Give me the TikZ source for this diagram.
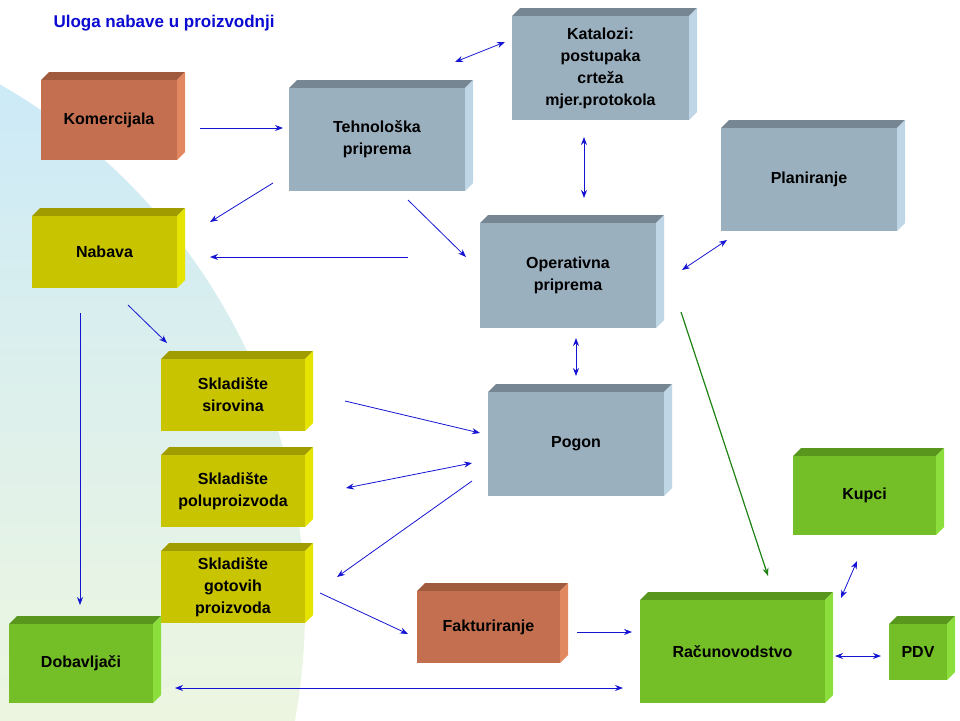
\documentclass[tikz,border=0pt]{standalone}
\usepackage{fontspec}
\setmainfont{Liberation Sans}
\usetikzlibrary{arrows.meta}
\definecolor{ofront}{RGB}{196,112,80}\definecolor{otop}{RGB}{160,90,62}\definecolor{oside}{RGB}{226,136,96}
\definecolor{gfront}{RGB}{155,176,191}\definecolor{gtop}{RGB}{118,134,146}\definecolor{gside}{RGB}{190,214,230}
\definecolor{yfront}{RGB}{201,196,0}\definecolor{ytop}{RGB}{160,156,0}\definecolor{yside}{RGB}{228,228,0}
\definecolor{lfront}{RGB}{116,190,40}\definecolor{ltop}{RGB}{88,150,30}\definecolor{lside}{RGB}{140,222,60}
\definecolor{arr}{RGB}{20,20,210}\definecolor{garr}{RGB}{30,130,20}
\definecolor{ttl}{RGB}{10,10,210}
\newcommand{\threedbox}[7]{%
  \fill[#6top] (#2,#3+8) -- (#2+8,#3) -- (#4,#3) -- (#4-8,#3+8) -- cycle;
  \fill[#6side] (#4-8,#3+8) -- (#4,#3) -- (#4,#5-8) -- (#4-8,#5) -- cycle;
  \node[boxtxt, fill=#6front, minimum width={#4-#2-8}, minimum height={#5-#3-8}, text width={#4-#2-14}] (#1) at ({(#2+#4-8)/2},{(#3+8+#5)/2}) {#7};
}
\tikzset{boxtxt/.style={inner sep=0pt, align=center, font=\bfseries\fontsize{16}{22}\selectfont},
  con/.style={draw=arr, line width=0.8pt, -{Stealth[length=8pt,width=6pt]}},
  bicon/.style={draw=arr, line width=0.8pt, {Stealth[length=8pt,width=6pt]}-{Stealth[length=8pt,width=6pt]}}}
\begin{document}
\begin{tikzpicture}[x=1pt,y=-1pt]
\useasboundingbox (0,0) rectangle (960,720);
\begin{scope}
\clip (0,0) rectangle (960,720);
\shade[top color={rgb,255:red,200;green,232;blue,250}, bottom color={rgb,255:red,252;green,252;blue,205}, middle color={rgb,255:red,232;green,244;blue,228}] (-300,610) circle (605);
\end{scope}
\node[anchor=west, text=ttl, font=\bfseries\fontsize{17}{20}\selectfont] (title) at (50,23) {Uloga nabave u proizvodnji};
\threedbox{kom}{41}{72}{185}{160}{o}{Komercijala}
\threedbox{teh}{289}{80}{473}{191}{g}{Tehnološka\\priprema}
\threedbox{kat}{512}{8}{697}{120}{g}{Katalozi:\\postupaka\\crteža\\mjer.protokola}
\threedbox{plan}{721}{120}{905}{231}{g}{Planiranje}
\threedbox{nab}{32}{208}{185}{288}{y}{Nabava}
\threedbox{op}{480}{215}{664}{328}{g}{Operativna\\priprema}
\threedbox{ss}{161}{351}{313}{431}{y}{Skladište\\sirovina}
\threedbox{sp}{161}{447}{313}{527}{y}{Skladište\\poluproizvoda}
\threedbox{sg}{161}{543}{313}{623}{y}{Skladište\\gotovih\\proizvoda}
\threedbox{pog}{488}{384}{672}{496}{g}{Pogon}
\threedbox{kup}{793}{448}{944}{535}{l}{Kupci}
\threedbox{fak}{417}{583}{568}{663}{o}{Fakturiranje}
\threedbox{rac}{640}{592}{833}{703}{l}{Računovodstvo}
\threedbox{pdv}{889}{616}{955}{680}{l}{PDV}
\threedbox{dob}{9}{616}{161}{703}{l}{Dobavljači}
\foreach \n/\x/\y in {a1/200/128,a2/283/128,b1/273/183,b2/210/222,c1/408/200,c2/466/257,d1/408/257,d2/210/257,
 e1/455/62,e2/505/42,f1/584/137,f2/584/198,g1/682/270,g2/727/240,h1/576/338,h2/576/376,i1/80/313,i2/80/605,
 j1/128/305,j2/167/343,k1/345/401,k2/480/433,l1/472/463,l2/346/488,m1/472/481,m2/337/577,n1/320/593,n2/408/634,
 o1/577/632,o2/632/632,p1/175/688,p2/623/688,q1/835/656,q2/881/656,r1/841/598,r2/857/561,s1/681/312,s2/768/576}
 {\coordinate (\n) at (\x,\y);}
\draw[con] (a1)--(a2); \draw[con] (b1)--(b2); \draw[con] (c1)--(c2); \draw[con] (d1)--(d2);
\draw[bicon] (e1)--(e2); \draw[bicon] (f1)--(f2); \draw[bicon] (g1)--(g2); \draw[bicon] (h1)--(h2);
\draw[con] (i1)--(i2); \draw[con] (j1)--(j2); \draw[con] (k1)--(k2); \draw[bicon] (l1)--(l2);
\draw[con] (m1)--(m2); \draw[con] (n1)--(n2); \draw[con] (o1)--(o2); \draw[bicon] (p1)--(p2);
\draw[bicon] (q1)--(q2); \draw[bicon] (r1)--(r2);
\draw[con, draw=garr, line width=1.2pt] (s1)--(s2);
\end{tikzpicture}
\end{document}
